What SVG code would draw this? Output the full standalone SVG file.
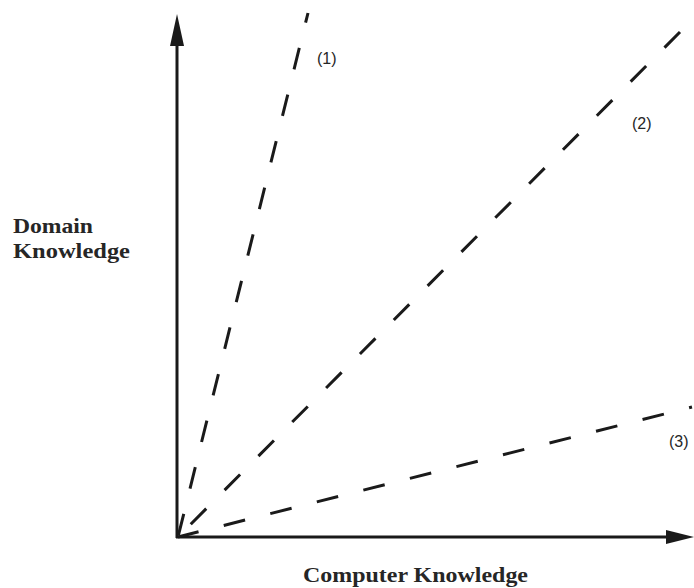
<svg xmlns="http://www.w3.org/2000/svg" width="694" height="588" viewBox="0 0 694 588">
  <defs>
    <style>
      .axis { stroke: #1a1a1a; stroke-width: 3; fill: none; }
      .ray { stroke: #1a1a1a; stroke-width: 3; fill: none; stroke-dasharray: 22 26; stroke-linecap: butt; }
      .title { font-family: "Liberation Serif", "DejaVu Serif", serif; font-weight: bold; font-size: 22px; fill: #262626; }
      .tag { font-family: "Liberation Sans", "DejaVu Sans", sans-serif; font-size: 16px; fill: #262626; }
    </style>
  </defs>
  <rect width="694" height="588" fill="#ffffff"/>

  <g id="connectors">
    <!-- axes with filled triangular heads -->
    <path class="axis" d="M177,538 L177,44"/>
    <path d="M177,14 L184,46 L170,46 Z" fill="#1a1a1a"/>
    <path class="axis" d="M176,537 L668,537"/>
    <path d="M694,537 L666,530 L666,544 Z" fill="#1a1a1a"/>

    <!-- dashed rays from the origin -->
    <path id="ray1" class="ray" style="stroke-dashoffset:12" d="M308,13 L178,537"/>
    <path id="ray2" class="ray" d="M680,32 L178,537"/>
    <path id="ray3" class="ray" style="stroke-dashoffset:19" d="M692,407 L178,537"/>
  </g>

  <g id="label-y">
    <text class="title" x="13" y="233" textLength="80" lengthAdjust="spacingAndGlyphs">Domain</text>
    <text class="title" x="13" y="258" textLength="117" lengthAdjust="spacingAndGlyphs">Knowledge</text>
  </g>
  <g id="label-x">
    <text class="title" x="303" y="582" textLength="225" lengthAdjust="spacingAndGlyphs">Computer Knowledge</text>
  </g>
  <g id="tag1"><text class="tag" x="317" y="64">(1)</text></g>
  <g id="tag2"><text class="tag" x="632" y="129">(2)</text></g>
  <g id="tag3"><text class="tag" x="669" y="447">(3)</text></g>
</svg>
